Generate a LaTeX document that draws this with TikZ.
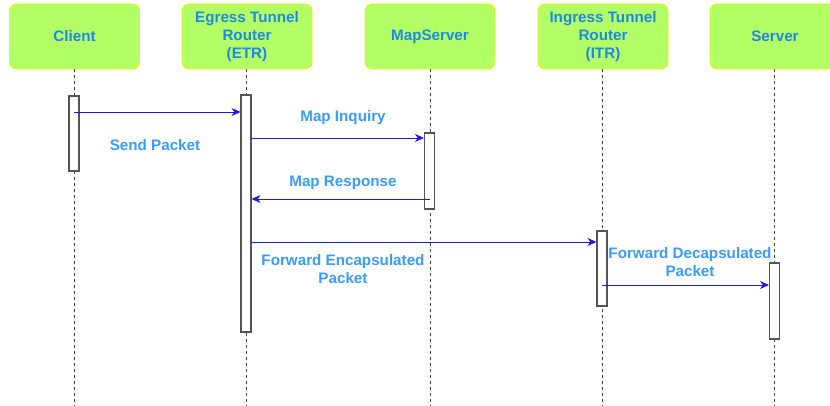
\documentclass[tikz,border=0pt]{standalone}
\usepackage{fontspec}
\setmainfont{Liberation Sans}
\usetikzlibrary{arrows.meta}
\definecolor{headfill}{HTML}{B3FF66}
\definecolor{headline}{HTML}{F0F000}
\definecolor{headtext}{HTML}{1E88E5}
\definecolor{msgtext}{HTML}{3A9BFF}
\definecolor{msgline}{HTML}{1A1AF0}
\definecolor{barline}{HTML}{555555}
\tikzset{
  actor/.style={draw=headline, fill=headfill, rounded corners=7pt, line width=0.8pt,
    minimum width=130pt, minimum height=65pt, align=center, text=headtext,
    font=\fontsize{15.2}{18}\selectfont\bfseries, inner sep=0pt},
  lifeline/.style={draw=black!75, dash pattern=on 3pt off 3pt, line width=0.8pt},
  actbar/.style={draw=barline, fill=white, line width=1.1pt, minimum width=10pt, inner sep=0pt},
  msg/.style={draw=msgline, line width=0.8pt, -{Stealth[length=9pt,width=8pt]}},
  msglabel/.style={text=msgtext, font=\fontsize{15.2}{18}\selectfont\bfseries, align=center, inner sep=0pt}
}
\begin{document}
\begin{tikzpicture}[x=1pt,y=-1pt]
\useasboundingbox (0,0) rectangle (830,406);
\clip (0,0) rectangle (830,406);
% participants
\node[actor] (client) at (74.5,36.5) {Client};
\node[actor] (etr) at (247,36.5) {Egress Tunnel\\Router\\(ETR)};
\node[actor] (ms) at (430,36.5) {MapServer};
\node[actor] (itr) at (603,36.5) {Ingress Tunnel\\Router\\(ITR)};
\node[actor] (srv) at (775,36.5) {Server};
% lifeline ends
\coordinate (clientEnd) at (74,406);
\coordinate (etrEnd) at (246,406);
\coordinate (msEnd) at (430,406);
\coordinate (itrEnd) at (602,406);
\coordinate (srvEnd) at (774,406);
\draw[lifeline] (client.south -| clientEnd) -- (clientEnd);
\draw[lifeline] (etr.south -| etrEnd) -- (etrEnd);
\draw[lifeline] (ms.south -| msEnd) -- (msEnd);
\draw[lifeline] (itr.south -| itrEnd) -- (itrEnd);
\draw[lifeline] (srv.south -| srvEnd) -- (srvEnd);
% activation bars
\node[actbar, minimum height=75pt] (clientBar) at (74,133.5) {};
\node[actbar, minimum height=237pt] (etrBar) at (246,213.5) {};
\node[actbar, minimum height=76pt] (msBar) at (429.5,171) {};
\node[actbar, minimum height=75pt] (itrBar) at (602,268.5) {};
\node[actbar, minimum height=76pt] (srvBar) at (774.5,301) {};
% messages
\coordinate (m1s) at (74,112);
\draw[msg] (m1s) -- (m1s -| etrBar.west);
\node[msglabel] (l1) at (155,145) {Send Packet};
\coordinate (m2s) at (251,138);
\draw[msg] (m2s) -- (m2s -| msBar.west);
\node[msglabel] (l2) at (343,118) {Map Inquiry};
\coordinate (m3s) at (430,199);
\draw[msg] (m3s) -- (m3s -| etrBar.east);
\node[msglabel] (l3) at (343,183) {Map Response};
\coordinate (m4s) at (251,242);
\draw[msg] (m4s) -- (m4s -| itrBar.west);
\node[msglabel] (l4) at (343,269) {Forward Encapsulated\\Packet};
\coordinate (m5s) at (602,285);
\draw[msg] (m5s) -- (m5s -| srvBar.west);
\node[msglabel] (l5) at (690,262.5) {Forward Decapsulated\\Packet};
\end{tikzpicture}
\end{document}
